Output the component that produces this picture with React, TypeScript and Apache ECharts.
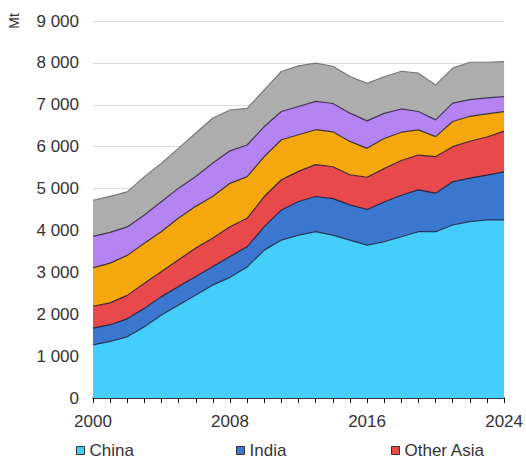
import React, { useEffect, useRef } from "react";
import * as echarts from "echarts";

const years = [
  "2000", "2001", "2002", "2003", "2004", "2005", "2006", "2007", "2008", "2009",
  "2010", "2011", "2012", "2013", "2014", "2015", "2016", "2017", "2018", "2019",
  "2020", "2021", "2022", "2023", "2024",
];

const china = [1270, 1350, 1460, 1700, 1980, 2220, 2460, 2700, 2880, 3130, 3530, 3770, 3890, 3970, 3890, 3770, 3650, 3730, 3850, 3970, 3970, 4130, 4210, 4250, 4250];
const india = [400, 400, 430, 440, 440, 440, 440, 440, 500, 480, 560, 720, 800, 840, 870, 840, 850, 950, 990, 1000, 920, 1030, 1040, 1070, 1150];
const otherAsia = [520, 520, 560, 600, 600, 640, 680, 680, 710, 680, 720, 720, 720, 760, 760, 720, 770, 800, 830, 830, 870, 840, 880, 910, 970];
const unitedStates = [915, 950, 955, 955, 955, 995, 995, 995, 1035, 995, 955, 955, 875, 835, 835, 795, 690, 715, 675, 600, 480, 600, 595, 555, 465];
const europeanUnion = [755, 735, 680, 675, 715, 715, 715, 795, 775, 755, 715, 675, 675, 675, 675, 675, 655, 600, 555, 440, 400, 440, 400, 380, 360];
const restOfWorld = [860, 860, 835, 915, 915, 955, 1035, 1075, 975, 875, 875, 955, 970, 915, 890, 875, 895, 875, 900, 915, 835, 835, 890, 850, 835];

const yTicks = [0, 1000, 2000, 3000, 4000, 5000, 6000, 7000, 8000, 9000];

const seriesDefs = [
  { name: "China", data: china, color: "#46CEFA", line: "#26365c" },
  { name: "India", data: india, color: "#3B77CF", line: "#262848" },
  { name: "Other Asia", data: otherAsia, color: "#E8494B", line: "#432434" },
  { name: "United States", data: unitedStates, color: "#F5A80E", line: "#433434" },
  { name: "European Union", data: europeanUnion, color: "#B485F2", line: "#433456" },
  { name: "Rest of world", data: restOfWorld, color: "#ADADAD", line: "#7a7a7a" },
];

const fmt = (v: number) => {
  if (v < 1000) return String(v);
  const s = String(v);
  return s.slice(0, s.length - 3) + " " + s.slice(s.length - 3);
};

export default function App() {
  const ref = useRef<HTMLDivElement>(null);
  useEffect(() => {
    document.body.style.margin = "0";
    const chart = echarts.init(ref.current!, null, { renderer: "svg" });
    const font = "'Liberation Sans', Arial, sans-serif";
    const legendCommon = {
      top: 437,
      itemWidth: 8,
      itemHeight: 8,
      icon: "rect",
      textStyle: { fontFamily: font, fontSize: 17, color: "#333" },
      itemStyle: { borderColor: "#333", borderWidth: 1 },
    };
    chart.setOption({
      animation: false,
      grid: { left: 93, right: 20, top: 21, bottom: 61, containLabel: false },
      legend: [
        { ...legendCommon, left: 71, data: ["China"] },
        { ...legendCommon, left: 231, data: ["India"] },
        { ...legendCommon, left: 386, data: ["Other Asia"] },
      ],
      graphic: [
        {
          type: "text",
          x: 14,
          y: 21,
          rotation: Math.PI / 2,
          style: {
            text: "Mt",
            fontFamily: font,
            fontSize: 14,
            fill: "#333",
            textAlign: "center",
            textVerticalAlign: "middle",
          },
        },
      ],
      xAxis: {
        type: "category",
        data: years,
        boundaryGap: false,
        axisLine: { show: true, lineStyle: { color: "#000", width: 1.5 } },
        axisTick: { show: true, interval: 0, length: 5, lineStyle: { color: "#000" } },
        axisLabel: {
          interval: 7,
          margin: 15,
          fontFamily: font,
          fontSize: 17,
          color: "#333",
        },
        splitLine: { show: false },
      },
      yAxis: {
        type: "value",
        min: yTicks[0],
        max: yTicks[yTicks.length - 1],
        interval: 1000,
        axisLine: { show: false },
        axisTick: { show: false },
        axisLabel: {
          margin: 14,
          fontFamily: font,
          fontSize: 17,
          color: "#333",
          formatter: (v: number) => fmt(v),
        },
        splitLine: { show: true, lineStyle: { color: "#dcdcdc", width: 1 } },
      },
      series: seriesDefs.map((s) => ({
        name: s.name,
        type: "line",
        stack: "total",
        data: s.data,
        symbol: "none",
        showSymbol: false,
        itemStyle: { color: s.color },
        lineStyle: { color: s.line, width: 1.2 },
        areaStyle: { color: s.color, opacity: 1 },
        emphasis: { disabled: true },
      })),
    });
    return () => chart.dispose();
  }, []);
  return <div ref={ref} style={{ width: 526, height: 459 }} />;
}
